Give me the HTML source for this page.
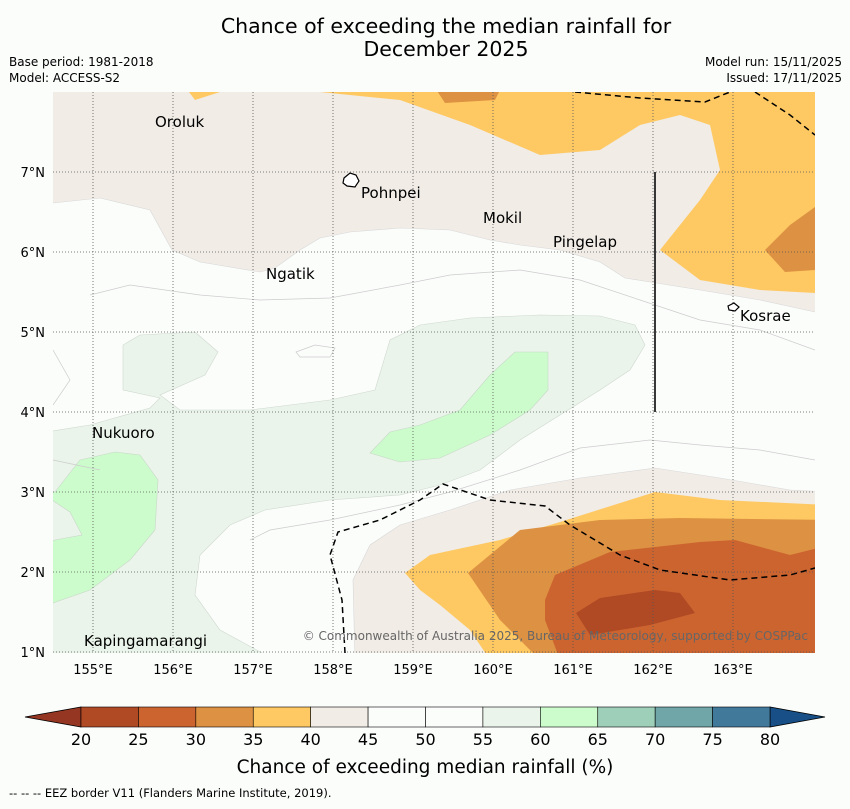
<!DOCTYPE html>
<html><head><meta charset="utf-8"><style>
body{margin:0;background:#fbfdfb;font-family:"Liberation Sans","DejaVu Sans",sans-serif;}
svg text{font-family:"DejaVu Sans","Liberation Sans",sans-serif;}
</style></head><body>
<svg width="850" height="804" viewBox="0 0 850 804" xmlns="http://www.w3.org/2000/svg">
<text x="446" y="33" font-size="20.5" text-anchor="middle">Chance of exceeding the median rainfall for</text>
<text x="446" y="56" font-size="20.5" text-anchor="middle">December 2025</text>
<text x="9" y="66" font-size="12">Base period: 1981-2018</text>
<text x="9" y="82" font-size="12">Model: ACCESS-S2</text>
<text x="842" y="66" font-size="12" text-anchor="end">Model run: 15/11/2025</text>
<text x="842" y="82" font-size="12" text-anchor="end">Issued: 17/11/2025</text>
<defs><clipPath id="mc"><rect x="53" y="92" width="762" height="561"/></clipPath></defs>
<g clip-path="url(#mc)">
<rect x="53" y="92" width="762" height="561" fill="#fbfdfb"/>
<path fill="#f1ece6" stroke="#d8d8d8" stroke-width="0.6" d="M40,80 L830,80 L830,312 L815,312 L760,300 L700,290 L650,282 L625,278 L600,262 L560,250 L520,245 L490,240 L450,230 L400,228 L350,232 L320,238 L300,250 L275,268 L260,272 L200,262 L172,250 L150,210 L100,198 L53,203 L40,203 Z"/>
<path fill="#fec963" d="M320,80 L830,80 L830,293 L815,293 L760,290 L700,280 L660,250 L700,200 L720,170 L710,125 L680,115 L640,125 L600,150 L540,155 L470,125 L400,100 L320,92 Z M180,80 L225,80 L220,92 L195,100 Z"/>
<path fill="#dd9142" d="M430,80 L505,80 L495,100 L445,103 Z M830,200 L815,207 L790,225 L765,250 L785,272 L815,270 L830,270 Z"/>
<path fill="#eaf4ea" stroke="#cfd8cf" stroke-width="0.6" d="M40,433 L90,425 L150,408 L160,398 L123,390 L123,345 L140,335 L195,332 L218,352 L205,375 L160,395 L180,410 L250,410 L330,400 L375,390 L390,340 L420,325 L470,318 L540,315 L600,316 L635,325 L645,345 L630,370 L600,390 L560,415 L520,440 L480,470 L440,485 L400,495 L330,500 L265,510 L230,525 L200,555 L195,595 L220,630 L275,660 L40,660 Z"/>
<path fill="#ccfccc" stroke="#c8d8c8" stroke-width="0.6" d="M40,492 L55,492 L80,460 L115,452 L140,455 L158,480 L155,530 L130,560 L90,590 L53,603 L40,603 L40,545 L55,540 L82,535 L70,512 Z"/>
<path fill="#ccfccc" stroke="#c8d8c8" stroke-width="0.6" d="M370,453 L390,432 L420,425 L460,410 L490,375 L515,352 L548,352 L548,390 L530,410 L490,435 L440,458 L400,462 Z"/>
<path fill="#f1ece6" stroke="#d8d8d8" stroke-width="0.6" d="M355,660 L353,580 L370,545 L400,525 L450,510 L510,490 L580,478 L655,468 L720,478 L790,490 L830,492 L830,660 Z"/>
<path fill="#fec963" d="M405,573 L430,555 L500,540 L560,522 L655,492 L720,500 L830,505 L830,660 L490,660 L470,630 L440,605 L420,590 Z"/>
<path fill="#dd9142" d="M468,573 L520,530 L600,520 L680,518 L830,520 L830,660 L540,660 L500,620 Z"/>
<path fill="#cc6430" d="M545,600 L555,575 L610,552 L700,542 L735,540 L790,555 L830,545 L830,660 L560,660 L545,620 Z"/>
<path fill="#b04a24" d="M576,613 L600,598 L655,590 L680,593 L695,613 L650,625 L590,635 Z"/>
<path fill="none" stroke="#cccccc" stroke-width="0.7" d="M53,350 L70,380 L53,405 M90,295 L130,285 L200,295 L260,300 L330,298 L400,285 L450,275 L520,270 L580,280 L640,300 L700,320 L760,330 L815,350 M53,460 L100,470 M250,540 L270,530 L330,520 L400,505 L450,492 L520,470 L580,448 L650,440 L700,445 L760,450 L815,460 M296,352 L315,345 L335,348 L330,357 L300,357 Z"/>
<g stroke="#555" stroke-width="0.8" stroke-dasharray="1,2" id="grid"></g>
<path fill="none" stroke="#000" stroke-width="1.5" stroke-dasharray="6,4" d="M575,92 L640,98 L705,102 L730,92 M755,92 L790,115 L815,135"/>
<path fill="none" stroke="#000" stroke-width="1.5" stroke-dasharray="6,4" d="M345,653 L342,600 L330,555 L338,532 L380,520 L420,500 L443,484 L490,500 L545,506 L570,525 L620,555 L660,570 L730,580 L790,575 L815,568"/>
<line x1="655" y1="172" x2="655" y2="412" stroke="#222" stroke-width="1.8"/>
<path fill="#fff" stroke="#000" stroke-width="1.2" d="M344,178 L350,173 L356,175 L359,181 L355,187 L347,186 L343,183 Z"/>
<path fill="#fff" stroke="#000" stroke-width="1.2" d="M728,306 L734,303 L739,307 L735,311 L729,310 Z"/>
<text x="808" y="640" font-size="12" fill="#666" text-anchor="end">© Commonwealth of Australia 2025, Bureau of Meteorology, supported by COSPPac</text>
<g font-size="15" fill="#000">
<text x="155" y="127">Oroluk</text>
<text x="361" y="198">Pohnpei</text>
<text x="483" y="223">Mokil</text>
<text x="553" y="247">Pingelap</text>
<text x="266" y="279">Ngatik</text>
<text x="740" y="321">Kosrae</text>
<text x="92" y="438">Nukuoro</text>
<text x="84" y="646">Kapingamarangi</text>
</g>
</g>
<g id="axes" font-size="13"></g>
<g id="cbar"></g>
<text x="425" y="773" font-size="18.5" text-anchor="middle">Chance of exceeding median rainfall (%)</text>
<text x="9" y="797" font-size="11.5">--  --  -- EEZ border V11 (Flanders Marine Institute, 2019).</text>
</svg>
<script>
const lonTicks=[155,156,157,158,159,160,161,162,163];
const latTicks=[1,2,3,4,5,6,7];
const cbarLevels=[20,25,30,35,40,45,50,55,60,65,70,75,80];
const cbarColors=["#b04a24","#cc6430","#dd9142","#fec963","#f1ece6","#fbfdfb","#fbfdfb","#eaf4ea","#ccfccc","#9ecfb8","#70a6a8","#40799a"];
const cbarUnder="#943622", cbarOver="#174f86";
const NS="http://www.w3.org/2000/svg";
const xLon=l=>53+(l-154.5)*80, yLat=l=>92+(8-l)*80;
const grid=document.getElementById('grid'), axes=document.getElementById('axes');
function mk(t,a,p){const e=document.createElementNS(NS,t);for(const k in a)e.setAttribute(k,a[k]);p.appendChild(e);return e;}
lonTicks.forEach(l=>{
 const g=mk('line',{x1:xLon(l),x2:xLon(l),y1:92,y2:653},grid);
 
 
 const t=mk('text',{x:xLon(l),y:674,'text-anchor':'middle'},axes);t.textContent=l+'°E';
 
 
});
latTicks.forEach(l=>{
 const g=mk('line',{x1:53,x2:815,y1:yLat(l),y2:yLat(l)},grid);
 
 
 const t=mk('text',{x:45,y:yLat(l)+5,'text-anchor':'end'},axes);t.textContent=l+'°N';
 
 
});
const cb=document.getElementById('cbar');
const x0=81,x1=770,yT=707,yB=727,w=(x1-x0)/(cbarLevels.length-1);
const u=mk('polygon',{points:`${x0},${yT} ${x0},${yB} 25,717`,fill:cbarUnder,stroke:'#000','stroke-width':0.8},cb);


const o=mk('polygon',{points:`${x1},${yT} ${x1},${yB} 825,717`,fill:cbarOver,stroke:'#000','stroke-width':0.8},cb);


cbarColors.forEach((c,i)=>{
 const r=mk('rect',{x:x0+i*w,y:yT,width:w,height:yB-yT,fill:c,stroke:'#000','stroke-width':0.6},cb);
 
 
});
cbarLevels.forEach((v,i)=>{
 const t=mk('text',{x:x0+i*w,y:745,'text-anchor':'middle','font-size':16},cb);t.textContent=v;
 
 
});
</script>
</body></html>
